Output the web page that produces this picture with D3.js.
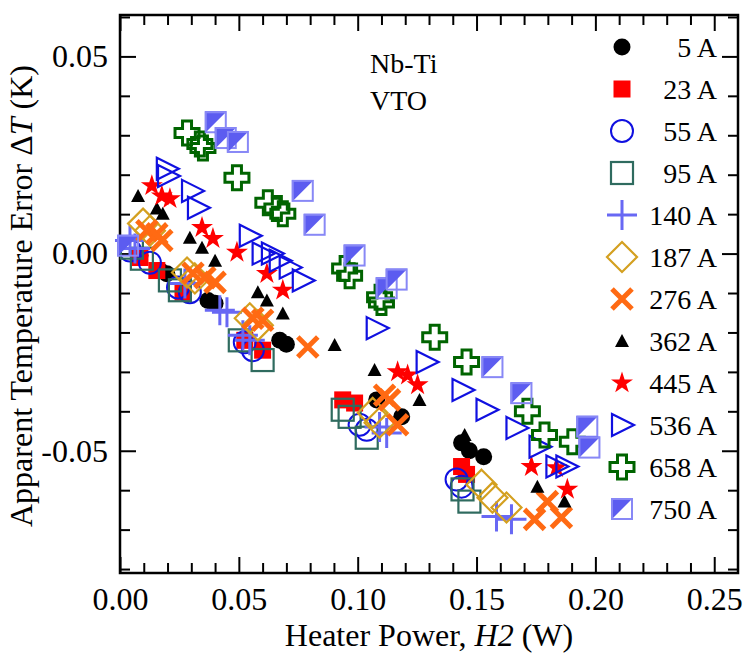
<!DOCTYPE html>
<html>
<head>
<meta charset="utf-8">
<script src="https://cdn.jsdelivr.net/npm/d3@7"></script>
<style>
body { margin: 0; background: #fff; }
svg text { font-family: "Liberation Serif", "Times New Roman", serif; fill: #000; }
</style>
</head>
<body>
<svg id="chart" width="755" height="653"></svg>
<script>
// data: [heater power (W), apparent error (K)]
var currents = ["5 A", "23 A", "55 A", "95 A", "140 A", "187 A", "276 A", "362 A", "445 A", "536 A", "658 A", "750 A"];

var s5 = [[0.0084,-0.0005],[0.0168,-0.0043],[0.0197,-0.0051],[0.037,-0.0119],[0.040,-0.0126],[0.0672,-0.022],[0.070,-0.023],
  [0.108,-0.0371],[0.1185,-0.0414],[0.1437,-0.048],[0.147,-0.050],[0.153,-0.0515]];
var s23 = [[0.0084,-0.001],[0.0155,-0.0043],[0.0265,-0.0098],[0.0525,-0.022],[0.060,-0.0245],[0.0937,-0.0371],[0.0987,-0.0379],
  [0.1437,-0.054],[0.1458,-0.056]];
var s55 = [[0.0042,0.0008],[0.0126,-0.0023],[0.0244,-0.0086],[0.0294,-0.0098],[0.0525,-0.0225],[0.0559,-0.0245],
  [0.1008,-0.0434],[0.1038,-0.0447],[0.1416,-0.0573],[0.1437,-0.0591]];
var s95 = [[0.005,0.0015],[0.0092,-0.0013],[0.021,-0.0068],[0.0252,-0.0093],[0.0504,-0.022],[0.060,-0.027],
  [0.0937,-0.0396],[0.0966,-0.0414],[0.1038,-0.0467],[0.1441,-0.0598],[0.147,-0.0629]];
var s140 = [[0.0042,0.0033],[0.0063,0.0013],[0.0273,-0.0076],[0.042,-0.0144],[0.045,-0.0149],[0.0517,-0.0207],[0.0546,-0.022],
  [0.1092,-0.044],[0.1122,-0.0455],[0.1584,-0.0667],[0.1647,-0.0674]];
var s187 = [[0.0097,0.0076],[0.0126,0.0058],[0.0282,-0.0048],[0.0315,-0.0063],[0.0546,-0.0164],[0.058,-0.0182],
  [0.1063,-0.0404],[0.1092,-0.0429],[0.1521,-0.0586],[0.1567,-0.0619],[0.1626,-0.0644]];
var s276 = [[0.0113,0.0058],[0.0155,0.005],[0.0176,0.0033],[0.0307,-0.005],[0.0357,-0.0061],[0.040,-0.0073],[0.0559,-0.0164],
  [0.060,-0.0169],[0.079,-0.0237],[0.1113,-0.0359],[0.1134,-0.0371],[0.1168,-0.0434],[0.1744,-0.0674],[0.1798,-0.0629],[0.1857,-0.0669]];
var s362 = [[0.0076,0.0146],[0.0155,0.0114],[0.018,0.0101],[0.0294,0.004],[0.0345,0.0015],[0.040,-0.0018],[0.058,-0.0098],
  [0.0618,-0.0119],[0.0685,-0.0152],[0.0903,-0.0232],[0.1071,-0.0295],[0.126,-0.0371],[0.1441,-0.0472],[0.145,-0.046],
  [0.1756,-0.0591],[0.187,-0.0629]];
var s445 = [[0.0134,0.0172],[0.0176,0.0146],[0.021,0.0139],[0.0345,0.0066],[0.0391,0.0038],[0.0492,0.0003],[0.0618,-0.0051],
  [0.0685,-0.0093],[0.1168,-0.030],[0.121,-0.0308],[0.1252,-0.0333],[0.1731,-0.054],[0.1836,-0.0543],[0.1882,-0.0598]];
var s536 = [[0.0197,0.0215],[0.0202,0.0197],[0.0303,0.0159],[0.0328,0.0116],[0.0546,0.0045],[0.060,0],[0.0639,0],
  [0.0672,-0.0018],[0.0714,-0.0035],[0.0769,-0.0068],[0.108,-0.0189],[0.129,-0.0275],[0.1441,-0.0346],[0.1542,-0.0396],
  [0.1668,-0.0442],[0.1765,-0.049],[0.1836,-0.054],[0.1878,-0.054]];
var s658 = [[0.0282,0.0306],[0.0336,0.0278],[0.0349,0.0268],[0.0492,0.0192],[0.0622,0.0129],[0.066,0.0114],[0.0685,0.0101],
  [0.0945,-0.0038],[0.0966,-0.0056],[0.1092,-0.0111],[0.110,-0.0124],[0.1324,-0.0212],[0.1458,-0.0275],[0.1714,-0.040],
  [0.1786,-0.046],[0.1903,-0.0477]];
var s750 = [[0.0034,0.002],[0.0403,0.0333],[0.0445,0.0293],[0.0496,0.0283],[0.0769,0.0159],[0.0819,0.0073],[0.0987,-0.0005],
  [0.1122,-0.0088],[0.1164,-0.0066],[0.1567,-0.0288],[0.1689,-0.0354],[0.1966,-0.0439],[0.1975,-0.0492]];

var xTicks = [0, 0.05, 0.10, 0.15, 0.20, 0.25];
var yTicks = [-0.05, 0.00, 0.05];

// marker look for each series
var seriesData = [s5, s23, s55, s95, s140, s187, s276, s362, s445, s536, s658, s750];
var kinds  = ["dot", "fsquare", "ring", "osquare", "plus", "diamond", "xmark", "tri", "star", "rtri", "cross", "half"];
var colors = ["#000", "#ff0000", "#1010e0", "#2f6b5f", "#6868f4", "#d4a020", "#ff6a13", "#000", "#ff0000", "#1010e0", "#006400", "#5c5cf0"];

var svg = d3.select("#chart");
var x = d3.scaleLinear().domain([0, 0.26]).range([120, 738]);
var y = d3.scaleLinear().domain([-0.081, 0.0605]).range([573, 15]);

function fmt(d){ return (d < 0 ? "-" : "") + d3.format(".2f")(Math.abs(d)); }

//눈금
var xMinor = d3.range(0.01, 0.26, 0.01).filter(function(v){ return Math.abs(v/0.05 - Math.round(v/0.05)) > 0.01; });
var yMinor = d3.range(-0.08, 0.061, 0.01).filter(function(v){ return Math.abs(v/0.05 - Math.round(v/0.05)) > 0.01; });

function addAxis(gen, tr){
  var g = svg.append("g").attr("transform", tr).call(gen);
  g.select(".domain").remove();
  g.selectAll("line").attr("stroke", "#000").attr("stroke-width", 2);
  g.selectAll("text").style("font-size", "32px").attr("fill", "#000");
  return g;
}
addAxis(d3.axisBottom(x).tickValues(xTicks).tickSize(-16).tickPadding(14).tickFormat(fmt), "translate(0,573)");
addAxis(d3.axisBottom(x).tickValues(xMinor).tickSize(-10).tickFormat(""), "translate(0,573)");
addAxis(d3.axisTop(x).tickValues(xTicks).tickSize(-16).tickFormat(""), "translate(0,15)");
addAxis(d3.axisTop(x).tickValues(xMinor).tickSize(-10).tickFormat(""), "translate(0,15)");
addAxis(d3.axisLeft(y).tickValues(yTicks).tickSize(-16).tickPadding(12).tickFormat(fmt), "translate(120,0)");
addAxis(d3.axisLeft(y).tickValues(yMinor).tickSize(-10).tickFormat(""), "translate(120,0)");
addAxis(d3.axisRight(y).tickValues(yTicks).tickSize(-16).tickFormat(""), "translate(738,0)");
addAxis(d3.axisRight(y).tickValues(yMinor).tickSize(-10).tickFormat(""), "translate(738,0)");

svg.append("rect").attr("x", 120).attr("y", 15).attr("width", 618).attr("height", 558)
   .attr("fill", "none").attr("stroke", "#000").attr("stroke-width", 2.5);

// 축 제목
var xt = svg.append("text").attr("x", 429).attr("y", 646).attr("text-anchor", "middle").style("font-size", "32px");
xt.append("tspan").text("Heater Power, ");
xt.append("tspan").attr("font-style", "italic").text("H2");
xt.append("tspan").text(" (W)");

var yt = svg.append("text").attr("transform", "translate(32,296) rotate(-90)").attr("text-anchor", "middle").style("font-size", "32px");
yt.append("tspan").text("Apparent Temperature Error \u0394");
yt.append("tspan").attr("font-style", "italic").text("T");
yt.append("tspan").text(" (K)");

svg.append("text").attr("x", 370).attr("y", 73).style("font-size", "28px").text("Nb-Ti");
svg.append("text").attr("x", 370).attr("y", 110).style("font-size", "28px").text("VTO");

// 마커 그리기
function marker(g, kind, c){
  if (kind == "dot") g.append("circle").attr("r", 8.5).attr("fill", c);
  else if (kind == "fsquare") g.append("rect").attr("x", -8.5).attr("y", -8.5).attr("width", 17).attr("height", 17).attr("fill", c);
  else if (kind == "ring") g.append("circle").attr("r", 11).attr("fill", "none").attr("stroke", c).attr("stroke-width", 2);
  else if (kind == "osquare") g.append("rect").attr("x", -11).attr("y", -11).attr("width", 22).attr("height", 22)
                               .attr("fill", "none").attr("stroke", c).attr("stroke-width", 2.2);
  else if (kind == "plus") g.append("path").attr("d", "M-15,0H15M0,-15V15").attr("stroke", c).attr("stroke-width", 3);
  else if (kind == "diamond") g.append("path").attr("d", "M0,-15L15,0L0,15L-15,0Z").attr("fill", "none")
                               .attr("stroke", c).attr("stroke-width", 2.2);
  else if (kind == "xmark") g.append("path").attr("d", "M-10,-10L10,10M-10,10L10,-10").attr("stroke", c).attr("stroke-width", 5);
  else if (kind == "tri") g.append("path").attr("d", "M0,-7L7,6L-7,6Z").attr("fill", c);
  else if (kind == "star") g.append("path").attr("d", d3.symbol(d3.symbolStar, 150)()).attr("fill", c);
  else if (kind == "rtri") g.append("path").attr("d", "M-10,-11L12,0L-10,11Z").attr("fill", "none")
                            .attr("stroke", c).attr("stroke-width", 2.2);
  else if (kind == "cross") g.append("path").attr("d", "M-4.5,-12H4.5V-4.5H12V4.5H4.5V12H-4.5V4.5H-12V-4.5H-4.5Z")
                             .attr("fill", "none").attr("stroke", c).attr("stroke-width", 3);
  else if (kind == "half") {
    g.append("path").attr("d", "M-11,-11H11L-11,11Z").attr("fill", c);
    g.append("rect").attr("x", -10).attr("y", -10).attr("width", 20).attr("height", 20)
     .attr("fill", "none").attr("stroke", "#8888f6").attr("stroke-width", 2);
  }
}

seriesData.forEach(function(data, k){
  svg.append("g").selectAll("g").data(data).enter().append("g")
     .attr("transform", function(d){ return "translate(" + x(d[0]) + "," + y(d[1]) + ")"; })
     .each(function(){ marker(d3.select(this), kinds[k], colors[k]); });
});

// 범례
currents.forEach(function(name, i){
  var yy = 47 + i * 42;
  marker(svg.append("g").attr("transform", "translate(622," + yy + ")"), kinds[i], colors[i]);
  svg.append("text").attr("x", 717).attr("y", yy + 10).attr("text-anchor", "end").style("font-size", "28px").text(name);
});
</script>
</body>
</html>
